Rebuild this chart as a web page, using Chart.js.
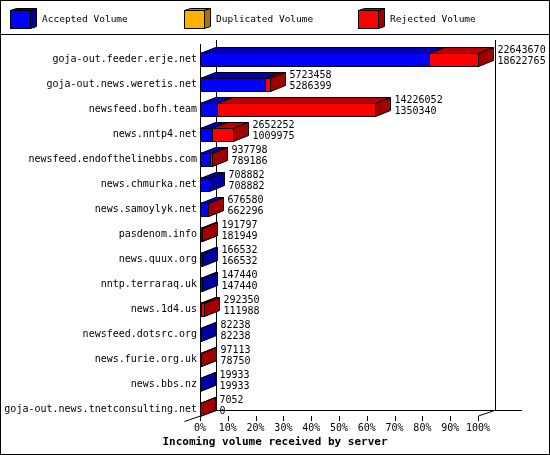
<!DOCTYPE html>
<html>
<head>
<meta charset="utf-8">
<script src="https://cdn.jsdelivr.net/npm/chart.js@4.4.1/dist/chart.umd.min.js"></script>
<style>
body{margin:0;background:#fff}
canvas{display:block}
</style>
</head>
<body>
<canvas id="graph" width="550" height="455"></canvas>
<script>

let servers=[
"goja-out.feeder.erje.net",
"goja-out.news.weretis.net",
"newsfeed.bofh.team",
"news.nntp4.net",
"newsfeed.endofthelinebbs.com",
"news.chmurka.net",
"news.samoylyk.net",
"pasdenom.info",
"news.quux.org",
"nntp.terraraq.uk",
"news.1d4.us",
"newsfeed.dotsrc.org",
"news.furie.org.uk",
"news.bbs.nz",
"goja-out.news.tnetconsulting.net"
]

let totalVolume=[22643670,5723458,14226052,2652252,937798,708882,676580,191797,166532,147440,292350,82238,97113,19933,7052]
let acceptedVolume=[18622765,5286399,1350340,1009975,789186,708882,662296,181949,166532,147440,111988,82238,78750,19933,0]
let duplicatedVolume=[0,0,0,0,0,0,0,0,0,0,0,0,0,0,0]

let seriesNames=["Accepted Volume","Duplicated Volume","Rejected Volume"]
let tickPercents=[0,10,20,30,40,50,60,70,80,90,100]
let xTitle="Incoming volume received by server"

let frontColors=["#0000ff","#ffb000","#ff0000"]
let topColors=["#0000b8","#c08600","#b80000"]
let sideColors=["#0000a0","#a87400","#a00000"]

let mono="'DejaVu Sans Mono', 'Liberation Mono', monospace"

let maxTotal=Math.max(...totalVolume)
let rejectedVolume=totalVolume.map((t,i)=>t-acceptedVolume[i]-duplicatedVolume[i])

function pct(arr){
return arr.map(v=>v/maxTotal*100)
}

let seriesValues=[pct(acceptedVolume),pct(duplicatedVolume),pct(rejectedVolume)]

const DX=15
const DY=6

function box(ctx,x0,x1,y0,y1,d){

ctx.lineWidth=1
ctx.strokeStyle="#000"

// front
ctx.fillStyle=frontColors[d]
ctx.fillRect(x0,y0,x1-x0,y1-y0)
ctx.strokeRect(x0,y0,x1-x0,y1-y0)

// top
ctx.beginPath()
ctx.moveTo(x0,y0)
ctx.lineTo(x0+DX,y0-DY)
ctx.lineTo(x1+DX,y0-DY)
ctx.lineTo(x1,y0)
ctx.closePath()
ctx.fillStyle=topColors[d]
ctx.fill()
ctx.stroke()

// side
ctx.beginPath()
ctx.moveTo(x1,y0)
ctx.lineTo(x1+DX,y0-DY)
ctx.lineTo(x1+DX,y1-DY)
ctx.lineTo(x1,y1)
ctx.closePath()
ctx.fillStyle=sideColors[d]
ctx.fill()
ctx.stroke()

}

let frame={
id:"frame",
beforeDatasetsDraw(chart){

let ctx=chart.ctx
let a=chart.chartArea
let L=Math.round(a.left)+0.5
let R=Math.round(a.right)+0.5
let B=Math.round(a.bottom)

ctx.save()
ctx.strokeStyle="#000"
ctx.lineWidth=1
ctx.beginPath()
ctx.moveTo(L,44);ctx.lineTo(L,B-6)
ctx.moveTo(L+16,40);ctx.lineTo(L+16,B-11.5)
ctx.moveTo(L+16,B-11.5);ctx.lineTo(522,B-11.5)
ctx.moveTo(L-16,B-0.5);ctx.lineTo(L+16,B-11.5)
ctx.moveTo(R,B-6);ctx.lineTo(R+16,B-11.5)
ctx.moveTo(R+17,40);ctx.lineTo(R+17,B-11.5)
tickPercents.forEach(v=>{
let x=Math.round(chart.scales.x.getPixelForValue(v))+0.5
ctx.moveTo(x,B-6);ctx.lineTo(x,B-1)
})
ctx.stroke()
ctx.restore()

},
afterDatasetsDraw(chart){

let ctx=chart.ctx
ctx.save()

servers.forEach((s,i)=>{

let end=null
let mid=null

chart.data.datasets.forEach((ds,d)=>{

if(!(ds.data[i]>0)) return
let bar=chart.getDatasetMeta(d).data[i]
let x0=Math.round(Math.min(bar.base,bar.x))+0.5
let x1=Math.round(Math.max(bar.base,bar.x))+0.5
let y0=Math.round(bar.y-bar.height/2)+0.5
let y1=Math.round(bar.y+bar.height/2)+0.5
box(ctx,x0,x1,y0,y1,d)
end=x1
mid=bar.y

})

if(end===null){
let bar=chart.getDatasetMeta(0).data[i]
end=bar.base
mid=bar.y
}

ctx.fillStyle="#000"
ctx.font="10px "+mono
ctx.textAlign="left"
ctx.textBaseline="middle"
ctx.fillText(String(totalVolume[i]),end+DX+4,mid-9)
ctx.fillText(String(acceptedVolume[i]),end+DX+4,mid+2)

})

ctx.restore()

},
afterDraw(chart){

let ctx=chart.ctx
ctx.save()

ctx.strokeStyle="#000"
ctx.lineWidth=1
ctx.strokeRect(0.5,0.5,549,454)
ctx.beginPath()
ctx.moveTo(0,34.5);ctx.lineTo(550,34.5)
ctx.stroke()

seriesNames.forEach((name,d)=>{

let x=10.5+174*d
let y=10.5
let w=20
let h=18

ctx.fillStyle=frontColors[d]
ctx.fillRect(x,y,w,h)
ctx.strokeRect(x,y,w,h)

ctx.beginPath()
ctx.moveTo(x,y);ctx.lineTo(x+6,y-2);ctx.lineTo(x+w+6,y-2);ctx.lineTo(x+w,y)
ctx.closePath()
ctx.fillStyle=topColors[d]
ctx.fill();ctx.stroke()

ctx.beginPath()
ctx.moveTo(x+w,y);ctx.lineTo(x+w+6,y-2);ctx.lineTo(x+w+6,y+h-2);ctx.lineTo(x+w,y+h)
ctx.closePath()
ctx.fillStyle=sideColors[d]
ctx.fill();ctx.stroke()

ctx.fillStyle="#000"
ctx.font="9.5px "+mono
ctx.textAlign="left"
ctx.textBaseline="middle"
ctx.fillText(name,42+174*d,20)

})

ctx.restore()

}
}

let canvas=document.getElementById("graph")

let chart=new Chart(canvas,{
type:"bar",
data:{
labels:servers,
datasets:seriesNames.map((n,d)=>({
label:n,
data:seriesValues[d],
backgroundColor:frontColors[d],
borderColor:"#000",
borderWidth:1,
borderSkipped:false,
barThickness:13
}))
},
options:{
indexAxis:"y",
responsive:false,
animation:false,
devicePixelRatio:1,
layout:{padding:{top:46.5,right:0,bottom:3.3,left:0}},
plugins:{
legend:{display:false},
tooltip:{enabled:false},
title:{
display:true,
text:xTitle,
position:"bottom",
color:"#000",
font:{family:mono,size:11,weight:"bold"},
padding:{top:2,bottom:3}
}
},
scales:{
x:{
stacked:true,
min:0,
max:100,
afterBuildTicks(s){s.ticks=tickPercents.map(v=>({value:v}))},
afterFit(s){s.height=12},
ticks:{
callback:v=>v+"%",
color:"#000",
font:{family:mono,size:10},
padding:1,
maxRotation:0,
autoSkip:false
},
grid:{display:false,drawTicks:false},
border:{display:false}
},
y:{
stacked:true,
afterFit(s){s.width=200},
ticks:{
color:"#000",
font:{family:mono,size:10},
padding:3,
autoSkip:false
},
grid:{display:false,drawTicks:false},
border:{display:false}
},
y2:{
type:"linear",
position:"right",
afterFit(s){s.width=72},
ticks:{display:false},
grid:{display:false,drawTicks:false},
border:{display:false}
}
}
},
plugins:[frame]
})

</script>
</body>
</html>
